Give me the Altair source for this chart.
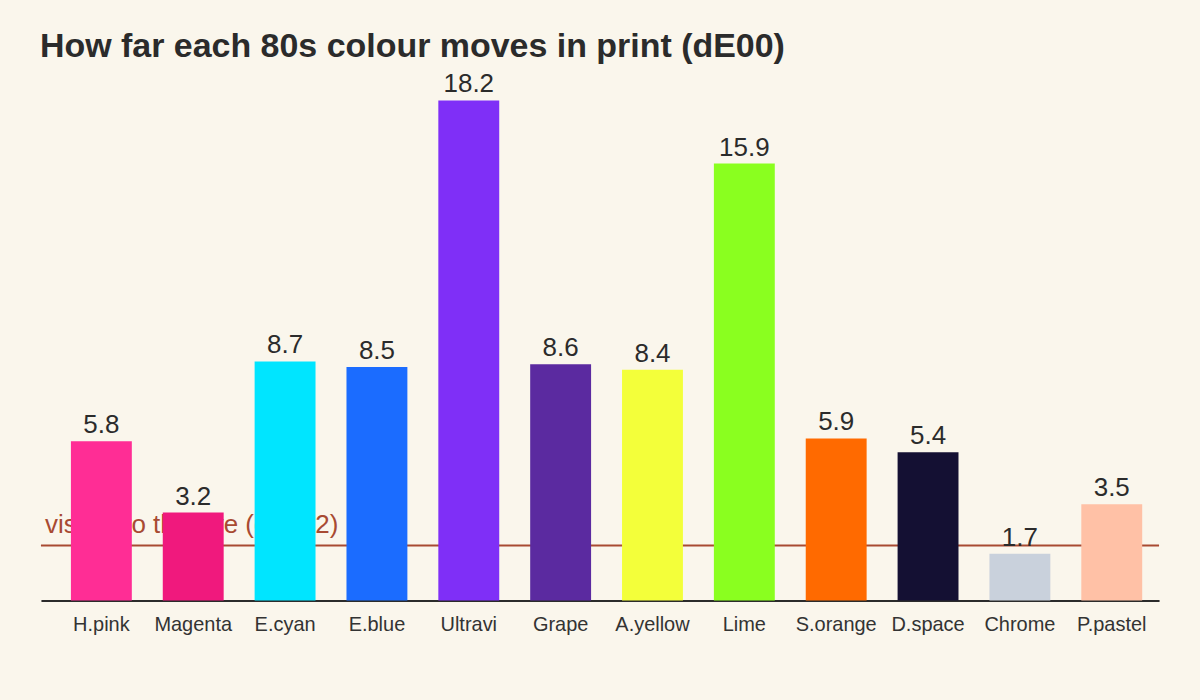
import altair as alt
import pandas as pd

names = ["H.pink", "Magenta", "E.cyan", "E.blue", "Ultravi", "Grape",
         "A.yellow", "Lime", "S.orange", "D.space", "Chrome", "P.pastel"]
values = [5.8, 3.2, 8.7, 8.5, 18.2, 8.6, 8.4, 15.9, 5.9, 5.4, 1.7, 3.5]
colors = ["#ff2d95", "#f0197d", "#00e5ff", "#1b6cff", "#7f2ff7", "#5b2aa0",
          "#f3ff3a", "#8aff1f", "#ff6a00", "#141033", "#c9d1dc", "#ffc1a6"]
threshold = [2.0]
threshold_label = ["visible to the eye (dE > 2)"]

df = pd.DataFrame({"name": names, "value": values, "color": colors,
                   "label": [f"{v:.1f}" for v in values]})
tdf = pd.DataFrame({"t": threshold, "label": threshold_label})

INK = "#2b2b2b"
RUST = "#a84a32"
BG = "#faf6ec"

x = alt.X("name:N", sort=names,
          scale=alt.Scale(paddingInner=0.337, paddingOuter=0.255, align=0.64),
          axis=alt.Axis(title=None, labelAngle=0, labelFontSize=20, labelColor="#333333",
                        labelFont="Liberation Sans", ticks=False, labelPadding=14,
                        domainColor=INK, domainWidth=2))
y = alt.Y("value:Q", scale=alt.Scale(domain=[0, 18.2], nice=False), axis=None)

rule = alt.Chart(tdf).mark_rule(color=RUST, strokeWidth=2).encode(
    y=alt.Y("t:Q", scale=alt.Scale(domain=[0, 18.2], nice=False), axis=None),
    x=alt.value(0), x2=alt.value(1120))
rule_text = alt.Chart(tdf).mark_text(align="left", baseline="alphabetic", dx=4, dy=-13,
                                     fontSize=26, color=RUST, font="Liberation Sans").encode(
    y=alt.Y("t:Q", scale=alt.Scale(domain=[0, 18.2], nice=False), axis=None),
    x=alt.value(0), text="label:N")

bars = alt.Chart(df).mark_bar().encode(x=x, y=y, color=alt.Color("color:N", scale=None))
labels = alt.Chart(df).mark_text(baseline="alphabetic", dy=-8, fontSize=26, color=INK,
                                 font="Liberation Sans").encode(x=x, y=y, text="label:N")

chart = alt.layer(rule, rule_text, bars, labels).properties(
    width=1120, height=501,
    title=alt.TitleParams("How far each 80s colour moves in print (dE00)", anchor="start",
                          fontSize=34, fontWeight="bold", color=INK, font="Liberation Sans",
                          offset=7),
    background=BG,
    padding={"left": 32, "top": 22, "right": 32, "bottom": 10},
).configure_view(stroke=None)

chart.save("out.html", embed_options={"renderer": "svg", "actions": False})

with open("out.html", encoding="utf-8") as f:
    html = f.read()
html = html.replace("<head>", "<head>\n<style>html, body { background: %s; }</style>" % BG, 1)
with open("out.html", "w", encoding="utf-8") as f:
    f.write(html)
